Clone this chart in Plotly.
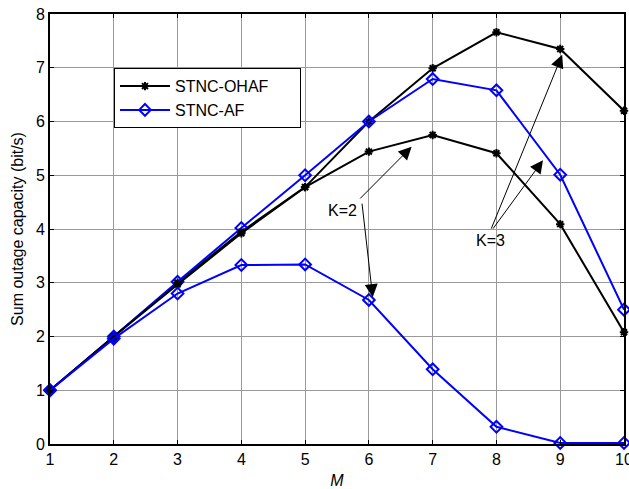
import plotly.graph_objects as go

M = [1, 2, 3, 4, 5, 6, 7, 8, 9, 10]
ohaf_k3 = [1.0, 2.0, 3.0, 3.95, 4.78, 6.0, 6.99, 7.66, 7.35, 6.2]
ohaf_k2 = [1.0, 2.0, 2.97, 3.92, 4.78, 5.44, 5.75, 5.41, 4.09, 2.08]
af_k3 = [1.0, 2.0, 3.02, 4.02, 5.0, 6.0, 6.79, 6.58, 5.01, 2.5]
af_k2 = [1.0, 1.96, 2.8, 3.33, 3.34, 2.68, 1.39, 0.32, 0.02, 0.02]

font = "Liberation Sans, Arial, sans-serif"
pad = "\u00a0" * 6
fig = go.Figure()

def add(y, name, color, symbol, size, show):
    fig.add_trace(go.Scatter(
        x=M, y=y, mode="lines+markers", name=name, showlegend=show,
        line=dict(color=color, width=2),
        marker=dict(symbol=symbol, size=size, color=color,
                    line=dict(color=color, width=2)),
        cliponaxis=False,
    ))

add(ohaf_k3, "STNC-OHAF" + pad, "black", "asterisk-open", 7, True)
add(af_k3, "STNC-AF" + pad, "blue", "diamond-open", 9, True)
add(ohaf_k2, "STNC-OHAF", "black", "asterisk-open", 7, False)
add(af_k2, "STNC-AF", "blue", "diamond-open", 9, False)

# annotations: (head_x, head_y, tail_x, tail_y)
arrows = [
    (6.67, 5.53, 5.84, 4.54),
    (6.06, 2.73, 5.89, 4.50),
    (9.03, 7.24, 7.91, 3.98),
    (8.73, 5.28, 7.93, 3.98),
]
for hx, hy, tx, ty in arrows:
    fig.add_annotation(x=hx, y=hy, ax=tx, ay=ty, xref="x", yref="y",
                       axref="x", ayref="y", showarrow=True, arrowhead=2,
                       arrowsize=2.6, arrowwidth=1, arrowcolor="black", text="")
fig.add_annotation(x=5.59, y=4.35, text="K=2", showarrow=False,
                   font=dict(family=font, size=16, color="black"))
fig.add_annotation(x=7.91, y=3.79, text="K=3", showarrow=False,
                   font=dict(family=font, size=16, color="black"))

axis_common = dict(
    showline=True, linecolor="black", linewidth=2, mirror="allticks",
    ticks="inside", ticklen=4, tickcolor="black", tickwidth=1,
    showgrid=True, gridcolor="#9a9a9a", gridwidth=1, zeroline=False,
    ticklabeloverflow="allow", automargin=False,
    tickfont=dict(family=font, size=16, color="black"),
)
fig.update_xaxes(range=[1, 10], dtick=1, tick0=1,
                 title=dict(text="<i>M</i>", font=dict(family=font, size=16, color="black"), standoff=8),
                 **axis_common)
fig.update_yaxes(range=[0, 8], dtick=1,
                 title=dict(text="Sum outage capacity (bit/s)", font=dict(family=font, size=16, color="black"), standoff=8),
                 **axis_common)

fig.update_layout(
    width=629, height=489,
    margin=dict(l=50, r=5, t=14, b=45),
    plot_bgcolor="white", paper_bgcolor="white",
    font=dict(family=font, color="black"),
    legend=dict(x=0.1115, y=0.874, xanchor="left", yanchor="top",
                bordercolor="black", borderwidth=1, bgcolor="white",
                font=dict(family=font, size=16, color="black"),
                tracegroupgap=0, itemwidth=50),
)

fig.write_html("out.html", config={"displayModeBar": False},
               post_script="document.body.style.margin='0';")
